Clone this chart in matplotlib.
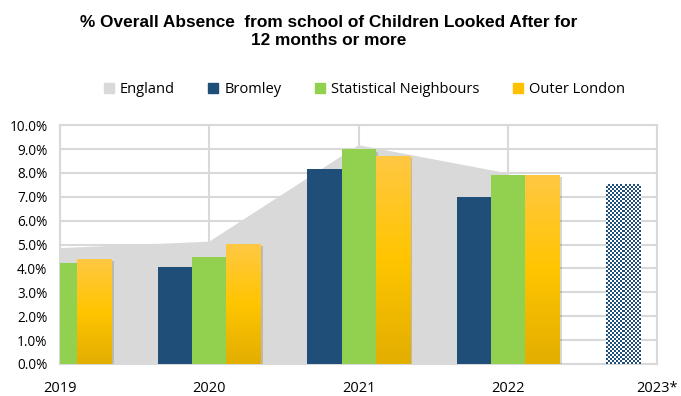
import numpy as np
import matplotlib.pyplot as plt
import matplotlib.patheffects as pe
from matplotlib.colors import LinearSegmentedColormap, ListedColormap
from matplotlib.ticker import PercentFormatter, MultipleLocator
from matplotlib.patches import Patch

# data (%)
years = ['2019', '2020', '2021', '2022', '2023*']
england = [4.85, 5.12, 9.16, 7.98]
bromley = [np.nan, 4.06, 8.16, 6.97]
bromley_2023 = 7.53
stat_neighbours = [4.21, 4.48, 8.98, 7.91]
outer_london = [4.38, 5.02, 8.72, 7.91]

plt.rcParams['font.family'] = ['Open Sans', 'DejaVu Sans']

grey = '#D9D9D9'
navy = '#1F4E79'
green = '#92D050'
gold = '#FFC000'

fig = plt.figure(figsize=(6.81, 3.96), dpi=100)
ax = fig.add_axes([0.088, 0.081, 0.877, 0.603])

x = np.arange(len(years))
w = 0.228
shadow = [pe.SimplePatchShadow(offset=(2, -1.5), alpha=0.2), pe.Normal()]

# England as area behind the bars
ax.fill_between(x[:4], england, color=grey, lw=0, zorder=1, path_effects=shadow)

ax.bar(x[:4] - w, bromley, w, color=navy, zorder=3, path_effects=shadow)
ax.bar(x[:4], stat_neighbours, w, color=green, zorder=3, path_effects=shadow)
ol_bars = ax.bar(x[:4] + w, outer_london, w, color=gold, zorder=3, path_effects=shadow)

# gradient fill on the outer london bars
cmap = LinearSegmentedColormap.from_list('gold', ['#E2AE00', '#FFC500', '#FFC843'])
grad = np.linspace(0, 1, 256).reshape(-1, 1)
for b in ol_bars:
    im = ax.imshow(grad, cmap=cmap, origin='lower', aspect='auto', zorder=3.5,
                   extent=[b.get_x(), b.get_x() + b.get_width(), 0, b.get_height()])
    im.set_clip_path(b)

# 2023 provisional bar, fine checker pattern
b23 = ax.bar(x[4] - w, bromley_2023, w, facecolor='white', linewidth=0, zorder=3)[0]
nx, ny = 17, 90
checker = (np.add.outer(np.arange(ny), np.arange(nx)) % 2)
im = ax.imshow(checker, cmap=ListedColormap(['white', navy]), interpolation='nearest',
               aspect='auto', zorder=3.5,
               extent=[b23.get_x(), b23.get_x() + w, 0, bromley_2023])
im.set_clip_path(b23)

ax.set_xlim(0, 4)
ax.set_ylim(0, 10)
ax.set_xticks(x)
ax.set_xticklabels(years, fontsize=10.5)
ax.yaxis.set_major_locator(MultipleLocator(1))
ax.yaxis.set_major_formatter(PercentFormatter(xmax=100, decimals=1))
ax.tick_params(axis='y', labelsize=9.8, length=0, pad=9)
ax.tick_params(axis='x', length=0, pad=12)
ax.grid(True, color=grey, lw=1.5)
ax.set_axisbelow(True)
for s in ax.spines.values():
    s.set_color(grey)
    s.set_linewidth(1.5)

handles = [Patch(color=grey), Patch(color=navy), Patch(color=green), Patch(color=gold)]
labels = ['England', 'Bromley', 'Statistical Neighbours', 'Outer London']
fig.legend(handles, labels, loc='center', bbox_to_anchor=(0.535, 0.773), ncol=4,
           frameon=False, handlelength=0.7, handleheight=0.7, handletextpad=0.4,
           columnspacing=2.3, fontsize=10.5)

fig.text(0.483, 0.92, '% Overall Absence  from school of Children Looked After for\n12 months or more',
         ha='center', va='center', fontsize=12.4, fontweight='bold', linespacing=1.25,
         family=['Liberation Sans', 'DejaVu Sans'])

plt.savefig('out.png', dpi=100)
